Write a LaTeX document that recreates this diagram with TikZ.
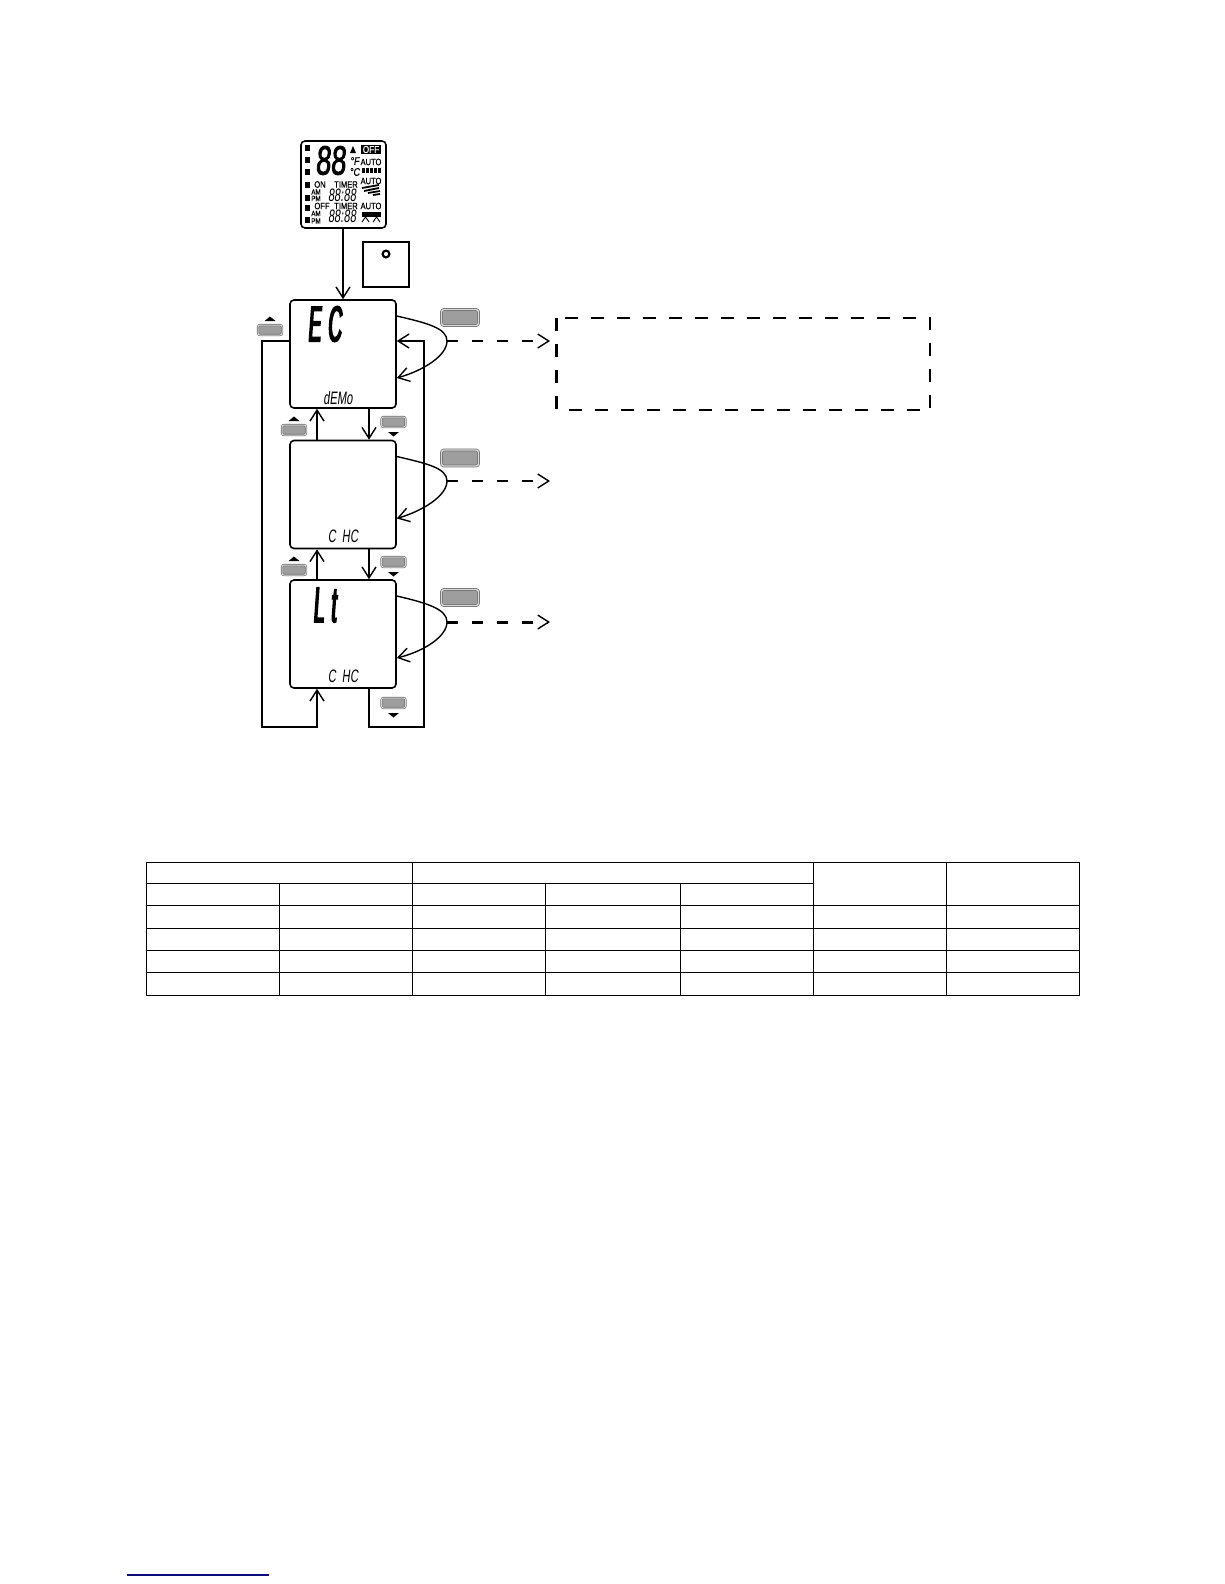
\documentclass[tikz,border=0pt]{standalone}
\usepackage{fontspec}
\usepackage{tikz}
\usetikzlibrary{arrows.meta}
\setmainfont{Liberation Sans}
\newfontfamily\lcdbig[FakeStretch=0.38,FakeBold=3.2,FakeSlant=0.07]{Liberation Sans}
\newfontfamily\lcdeight[FakeStretch=0.66,FakeBold=2,FakeSlant=0.08]{Liberation Sans}
\newfontfamily\lcdthin[FakeStretch=0.62,FakeSlant=0.12]{Liberation Sans}
\newfontfamily\lcdlabel[FakeStretch=0.82,FakeBold=0.6]{Liberation Sans}
\definecolor{btnfill}{gray}{0.62}
\definecolor{btnedge}{gray}{0.42}
\definecolor{btnrim}{gray}{0.85}
\definecolor{footblue}{rgb}{0.05,0.05,0.5}
\tikzset{
  line/.style={line width=1.4pt},
  flow/.style={line, -{Straight Barb[length=11pt,width=14pt,line width=1.4pt]}},
  dashflow/.style={flow, dash pattern=on 11pt off 14pt},
  screen/.style={draw, line width=1.6pt, rounded corners=4pt, minimum width=106pt, minimum height=108pt, inner sep=0pt},
  bigbtn/.style={draw=btnedge, fill=btnfill, double=btnrim, double distance=1.4pt, line width=0.7pt, rounded corners=2.5pt, minimum width=37pt, minimum height=16pt, inner sep=0pt},
  smallbtn/.style={draw=btnedge, fill=btnfill, double=btnrim, double distance=1pt, line width=0.6pt, rounded corners=2pt, minimum width=24pt, minimum height=10pt, inner sep=0pt},
  lcdtext/.style={inner sep=0pt, font=\lcdlabel\fontsize{9.2}{9.2}\selectfont},
  lcdtiny/.style={inner sep=0pt, font=\lcdlabel\fontsize{7.6}{7.6}\selectfont},
  readout/.style={inner sep=0pt, font=\lcdbig\fontsize{50}{50}\selectfont},
  subread/.style={inner sep=0pt, font=\lcdthin\fontsize{18}{18}\selectfont},
  cell/.style={line width=1pt},
}
\begin{document}
\begin{tikzpicture}[x=1pt,y=-1pt]
\useasboundingbox (0,0) rectangle (1224,1584);
% remote display
\node[draw, line width=1.6pt, rounded corners=4pt, minimum width=85pt, minimum height=87pt, inner sep=0pt] (lcd) at (343.5,184.5) {};
\foreach \y in {148,160,172,185,198,208,220}
  \fill (304.5,\y-3) rectangle (309.5,\y+3);
\node[inner sep=0pt, font=\lcdeight\fontsize{41}{41}\selectfont] (lcdTemp) at (330.5,160.5) {88};
\fill (350,153) -- (356,153) -- (353,146) -- cycle;
\node[inner sep=0pt, font=\lcdlabel\itshape\fontsize{11}{11}\selectfont] (lcdF) at (355,161) {°F};
\node[inner sep=0pt, font=\lcdlabel\itshape\fontsize{11}{11}\selectfont] (lcdC) at (355,172) {°C};
\node[fill=black, text=white, inner sep=0pt, minimum width=20pt, minimum height=9pt, font=\lcdlabel\fontsize{10}{10}\selectfont] (lcdOff) at (371,149.5) {OFF};
\node[lcdtext] (lcdAutoA) at (371,162) {AUTO};
\foreach \x in {361.5,365.7,369.9,374.1,378.3}
  \fill (\x,167.5) rectangle (\x+3,173);
\node[lcdtext] (lcdAutoB) at (371,181) {AUTO};
\foreach \a/\b/\c/\d in {362/188/379/185,364/191/379/188,368/193/380/191,373/195/380/194}
  \draw[line width=1.8pt] (\a,\b) -- (\c,\d);
\node[lcdtext] (lcdAutoC) at (371,206) {AUTO};
\fill (362,212) rectangle (381,216.5);
\draw[line width=0.9pt] (362,222) -- (365.5,217) -- (369,222) (373,222) -- (376.5,217) -- (380,222);
\node[lcdtext] (lcdOn) at (320,184.5) {ON};
\node[lcdtext] (lcdOnTimer) at (346,184.5) {TIMER};
\node[lcdtiny] (lcdOnAm) at (316,192) {AM};
\node[lcdtiny] (lcdOnPm) at (316,198.5) {PM};
\node[subread] (lcdOnTime) at (342,195) {88:88};
\node[lcdtext] (lcdOffTxt) at (322,206) {OFF};
\node[lcdtext] (lcdOffTimer) at (346,206) {TIMER};
\node[lcdtiny] (lcdOffAm) at (316,213.5) {AM};
\node[lcdtiny] (lcdOffPm) at (316,221) {PM};
\node[subread] (lcdOffTime) at (342,216.5) {88:88};
% indicator square
\draw[line width=2pt] (363,242) rectangle (409,287);
\draw[line width=2.2pt] (386,254) circle (3.4);
% screens
\node[screen] (scrEC) at (343,354) {};
\node[screen] (scrCHC) at (343,494.5) {};
\node[screen] (scrLt) at (343,634) {};
\node[readout] (txtEC) at (324.5,324) {E\hspace{7pt}C};
\node[readout] (txtLt) at (324.5,605) {L\hspace{7pt}t};
\node[subread] (txtDemo) at (338,398) {dEMo};
\node[subread] (txtCHC) at (343,536) {C\hspace{6pt}HC};
\node[subread] (txtCHCb) at (343,676) {C\hspace{6pt}HC};
\draw[flow] (lcd.south -| scrEC.north) -- (scrEC.north);
% up and down between screens
\draw[flow] ([xshift=-26pt]scrCHC.north) -- ([xshift=-26pt]scrEC.south);
\draw[flow] ([xshift=26pt]scrEC.south) -- ([xshift=26pt]scrCHC.north);
\draw[flow] ([xshift=-26pt]scrLt.north) -- ([xshift=-26pt]scrCHC.south);
\draw[flow] ([xshift=26pt]scrCHC.south) -- ([xshift=26pt]scrLt.north);
% long return lines
\coordinate (backL) at (262,727);
\coordinate (backR) at (424,727);
\draw[flow] ([yshift=13pt]scrEC.west) -| (backL) -| ([xshift=-26pt]scrLt.south);
\draw[flow] ([xshift=26pt]scrLt.south) |- (backR) |- ([yshift=13pt]scrEC.east);
% side loops and dashed exits
\foreach \scr/\y/\dashw in {scrEC/341/1.4,scrCHC/481/1.4,scrLt/622/3} {
  \coordinate (turn\scr) at (447,\y);
  \coordinate (exit\scr) at (550,\y);
  \draw[flow] ([yshift=38pt]\scr.east) .. controls +(30,7) and (447,\y-13) .. (turn\scr)
     .. controls (447,\y+14) and (425,\y+29) .. ([yshift=-24pt]\scr.east);
  \draw[dashflow, line width=\dashw pt] (turn\scr) -- (exit\scr);
}
% buttons
\node[bigbtn] (btnEC) at (460,317.5) {};
\node[bigbtn] (btnCHC) at (460,458) {};
\node[bigbtn] (btnLt) at (460,597.5) {};
\foreach \nm/\x/\y in {upA/270/330,upB/294/430,upC/294/570} {
  \node[smallbtn] (btn\nm) at (\x,\y) {};
  \fill (\x-5.5,\y-9) -- (\x+5.5,\y-9) -- (\x,\y-13.5) -- cycle;
}
\foreach \nm/\x/\y in {downA/393.5/422,downB/393.5/562,downC/393.5/703} {
  \node[smallbtn] (btn\nm) at (\x,\y) {};
  \fill (\x-5.5,\y+10) -- (\x+5.5,\y+10) -- (\x,\y+14.5) -- cycle;
}
% dashed note box
\draw[line width=2.4pt, dash pattern=on 13pt off 13pt] (556.5,318) rectangle (930,410);
% table
\draw[cell] (146,862) rectangle (1079.5,995);
\foreach \y in {905,928,950,972}
  \draw[cell] (146,\y) -- (1079.5,\y);
\draw[cell] (146,883) -- (813,883);
\foreach \x in {412.5,813,946}
  \draw[cell] (\x,862) -- (\x,995);
\foreach \x in {279.5,545.5,680}
  \draw[cell] (\x,883) -- (\x,995);
% footer rule
\draw[footblue, line width=1.2pt] (127,1575) -- (269,1575);
\end{tikzpicture}
\end{document}
